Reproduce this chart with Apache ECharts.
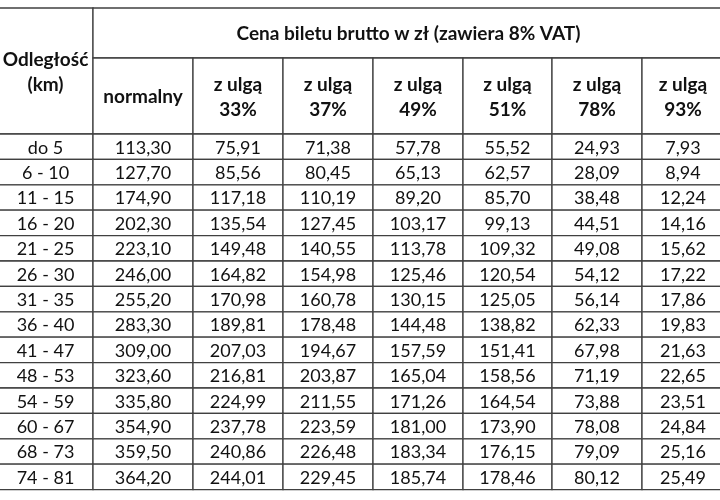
<!DOCTYPE html>
<html><head><meta charset="utf-8">
<script src="https://cdn.jsdelivr.net/npm/echarts@6/dist/echarts.min.js"></script>
<style>html,body{margin:0;padding:0;background:#fff}#c{width:720px;height:500px}</style>
</head><body><div id="c"></div>
<script>
var title = 'Cena biletu brutto w zł (zawiera 8% VAT)';
var firstHeader = 'Odległość\n(km)';
var columns = ['normalny','z ulgą\n33%','z ulgą\n37%','z ulgą\n49%','z ulgą\n51%','z ulgą\n78%','z ulgą\n93%'];
var distances = ['do 5','6 - 10','11 - 15','16 - 20','21 - 25','26 - 30','31 - 35','36 - 40','41 - 47','48 - 53','54 - 59','60 - 67','68 - 73','74 - 81'];
var normalny = ['113,30','127,70','174,90','202,30','223,10','246,00','255,20','283,30','309,00','323,60','335,80','354,90','359,50','364,20'];
var ulga33 = ['75,91','85,56','117,18','135,54','149,48','164,82','170,98','189,81','207,03','216,81','224,99','237,78','240,86','244,01'];
var ulga37 = ['71,38','80,45','110,19','127,45','140,55','154,98','160,78','178,48','194,67','203,87','211,55','223,59','226,48','229,45'];
var ulga49 = ['57,78','65,13','89,20','103,17','113,78','125,46','130,15','144,48','157,59','165,04','171,26','181,00','183,34','185,74'];
var ulga51 = ['55,52','62,57','85,70','99,13','109,32','120,54','125,05','138,82','151,41','158,56','164,54','173,90','176,15','178,46'];
var ulga78 = ['24,93','28,09','38,48','44,51','49,08','54,12','56,14','62,33','67,98','71,19','73,88','78,08','79,09','80,12'];
var ulga93 = ['7,93','8,94','12,24','14,16','15,62','17,22','17,86','19,83','21,63','22,65','23,51','24,84','25,16','25,49'];
var values = [normalny, ulga33, ulga37, ulga49, ulga51, ulga78, ulga93];

// layout
var colEdges = [-2, 93, 193, 283, 373, 463, 552, 642, 724];
var top0 = 8, h1 = 58, h2 = 134, rowH = 25.4;
var cells = [];
cells.push([colEdges[0], top0, colEdges[1], h2, firstHeader, 1]);
cells.push([colEdges[1], top0, colEdges[8], h1, title, 1]);
columns.forEach(function(c, i){ cells.push([colEdges[i+1], h1, colEdges[i+2], h2, c, 1]); });
distances.forEach(function(d, r){
  var y0 = h2 + r*rowH, y1 = y0 + rowH;
  cells.push([colEdges[0], y0, colEdges[1], y1, d, 0]);
  values.forEach(function(col, i){ cells.push([colEdges[i+1], y0, colEdges[i+2], y1, col[r], 0]); });
});

var chart = echarts.init(document.getElementById('c'));
chart.setOption({
  animation:false,
  grid:{left:0,right:0,top:0,bottom:0},
  xAxis:{type:'value',min:0,max:720,show:false},
  yAxis:{type:'value',min:0,max:500,inverse:true,show:false},
  series:[{
    type:'custom', clip:false,
    data:cells,
    renderItem:function(params, api){
      var p0 = api.coord([api.value(0), api.value(1)]);
      var p1 = api.coord([api.value(2), api.value(3)]);
      var d = cells[params.dataIndex];
      return {type:'group', children:[
        {type:'rect', shape:{x:p0[0],y:p0[1],width:p1[0]-p0[0],height:p1[1]-p0[1]},
         style:{fill:'#fff',stroke:'#404040',lineWidth:1.3}},
        {type:'text', style:{text:d[4],x:(p0[0]+p1[0])/2,y:(p0[1]+p1[1])/2+1,
          align:'center',verticalAlign:'middle',fill:'#111',
          font:(d[5]?'bold 19px ':'18px ')+'Lato, "Open Sans", sans-serif',lineHeight:25}}
      ]};
    }
  }]
});
</script></body></html>
